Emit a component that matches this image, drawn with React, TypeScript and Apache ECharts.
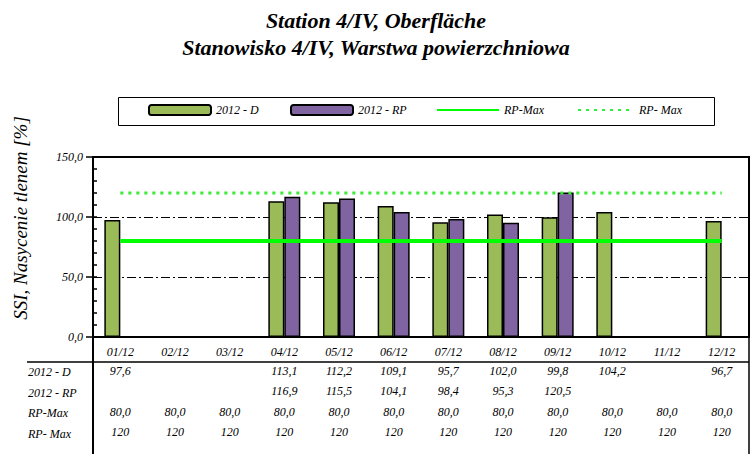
import React, { useEffect, useRef } from "react";
import * as echarts from "echarts";

const categories = ["01/12", "02/12", "03/12", "04/12", "05/12", "06/12", "07/12", "08/12", "09/12", "10/12", "11/12", "12/12"];
const seriesD: (number | null)[] = [97.6, null, null, 113.1, 112.2, 109.1, 95.7, 102.0, 99.8, 104.2, null, 96.7];
const seriesRP: (number | null)[] = [null, null, null, 116.9, 115.5, 104.1, 98.4, 95.3, 120.5, null, null, null];
const rpMaxLow: number[] = [80, 80, 80, 80, 80, 80, 80, 80, 80, 80, 80, 80];
const rpMaxHigh: number[] = [120, 120, 120, 120, 120, 120, 120, 120, 120, 120, 120, 120];
const rowLabels = ["2012 - D", "2012 - RP", "RP-Max", "RP- Max"];
const legendNames = ["2012 - D", "2012 - RP", "RP-Max", "RP- Max"];

const FONT = '"Liberation Serif", "Times New Roman", serif';
const fmt1 = (v: number | null) => (v == null ? "" : v.toFixed(1).replace(".", ","));
const fmt0 = (v: number | null) => (v == null ? "" : String(Math.round(v)));

export default function App() {
  const ref = useRef<HTMLDivElement>(null);
  useEffect(() => {
    if (!ref.current) return;
    const chart = echarts.init(ref.current, undefined, { renderer: "svg" });
    const gridLeft = 93, gridTop = 157, gridW = 656, gridH = 180;
    const tableRows = [fmt1, fmt1, fmt1, fmt0];
    const tableData = [seriesD, seriesRP, rpMaxLow, rpMaxHigh];
    const offsets = [21, 41, 62, 82];
    const labelStyle = { fontFamily: FONT, fontStyle: "italic", fontSize: 12, color: "#000" };

    const xAxes: any[] = [
      {
        type: "category",
        data: categories,
        gridIndex: 0,
        position: "bottom",
        axisLine: { show: true, lineStyle: { color: "#000", width: 2 } },
        axisTick: { show: false },
        axisLabel: { ...labelStyle, interval: 0, margin: 9 },
      },
    ];
    tableData.forEach((arr, i) => {
      xAxes.push({
        type: "category",
        data: arr.map((v) => tableRows[i](v as number | null)),
        gridIndex: 0,
        position: "bottom",
        offset: offsets[i],
        axisLine: { show: false },
        axisTick: { show: false },
        splitLine: { show: false },
        axisLabel: { ...labelStyle, interval: 0, margin: 7 },
      });
    });

    const legendX = [148, 290, 436, 577];

    chart.setOption({
      animation: false,
      backgroundColor: "#fff",
      title: {
        text: "Station 4/IV, Oberfläche\nStanowisko 4/IV, Warstwa powierzchniowa",
        left: "center",
        top: 2,
        textStyle: { fontFamily: FONT, fontStyle: "italic", fontWeight: "bold", fontSize: 22, lineHeight: 27, color: "#000" },
      },
      legend: legendNames.map((n, i) => ({
        data: [n],
        left: legendX[i],
        top: 104,
        itemWidth: i === 3 ? 56 : 62,
        itemHeight: 10,
        itemGap: 6,
        padding: 0,
        textStyle: { ...labelStyle },
        ...(i >= 2 ? { itemStyle: { opacity: 0 } } : {}),
      })),
      grid: {
        left: gridLeft,
        top: gridTop,
        width: gridW,
        height: gridH,
        show: true,
        borderColor: "#000",
        borderWidth: 2,
        containLabel: false,
      },
      xAxis: xAxes,
      yAxis: [
        {
          type: "value",
          min: 0,
          max: 150,
          interval: 50,
          axisLine: { show: true, lineStyle: { color: "#000", width: 2 } },
          axisTick: { show: true, inside: false, length: 7, lineStyle: { color: "#000", width: 1.5 } },
          axisLabel: { ...labelStyle, margin: 10, formatter: (v: number) => v.toFixed(1).replace(".", ",") },
          splitLine: { show: true, lineStyle: { color: "#000", width: 1, type: [9, 3, 2, 3] } },
        },
        {
          type: "value",
          min: 0,
          max: 150,
          interval: 10,
          position: "left",
          axisLine: { show: false },
          axisTick: { show: true, inside: true, length: 4, lineStyle: { color: "#000", width: 1.5 } },
          axisLabel: { show: false },
          splitLine: { show: false },
        },
      ],
      graphic: [
        {
          type: "text",
          x: 20,
          y: 218,
          rotation: Math.PI / 2,
          style: {
            text: "SSI, Nasycenie tlenem [%]",
            fontFamily: FONT,
            fontStyle: "italic",
            fontSize: 19,
            fill: "#000",
            align: "center",
            verticalAlign: "middle",
          },
        },
        {
          type: "rect",
          shape: { x: 118.5, y: 97.5, width: 596, height: 28 },
          style: { fill: "none", stroke: "#000", lineWidth: 1 },
          z: 0,
        },
        { type: "line", shape: { x1: 27, y1: 362, x2: 749, y2: 362 }, style: { stroke: "#000", lineWidth: 1.5 } },
        { type: "line", shape: { x1: 93, y1: 337, x2: 93, y2: 454 }, style: { stroke: "#000", lineWidth: 2 } },
        { type: "line", shape: { x1: 749, y1: 337, x2: 749, y2: 454 }, style: { stroke: "#000", lineWidth: 1.5 } },
        ...rowLabels.map((t, i) => ({
          type: "text",
          x: 28,
          y: 372 + i * 20.5,
          style: { text: t, fontFamily: FONT, fontStyle: "italic", fontSize: 12, fill: "#000", align: "left", verticalAlign: "middle" },
        })),
      ],
      series: [
        {
          name: "2012 - D",
          type: "bar",
          data: seriesD,
          barWidth: 16,
          barGap: "0%",
          itemStyle: { color: "#9bbb59", borderColor: "#000", borderWidth: 1.5 },
          z: 2,
        },
        {
          name: "2012 - RP",
          type: "bar",
          data: seriesRP,
          barWidth: 16,
          barGap: "0%",
          itemStyle: { color: "#8064a2", borderColor: "#000", borderWidth: 1.5 },
          z: 2,
        },
        {
          name: "RP-Max",
          type: "line",
          data: rpMaxLow,
          symbol: "none",
          lineStyle: { color: "#00ff00", width: 4 },
          itemStyle: { color: "#00ff00" },
          z: 3,
        },
        {
          name: "RP- Max",
          type: "line",
          data: rpMaxHigh,
          symbol: "none",
          lineStyle: { color: "#33ee33", width: 3, type: [3, 5] },
          itemStyle: { color: "#33ee33" },
          z: 3,
        },
      ],
    });
    return () => chart.dispose();
  }, []);
  return <div ref={ref} style={{ width: 752, height: 454, position: "absolute", left: 0, top: 0 }} />;
}
